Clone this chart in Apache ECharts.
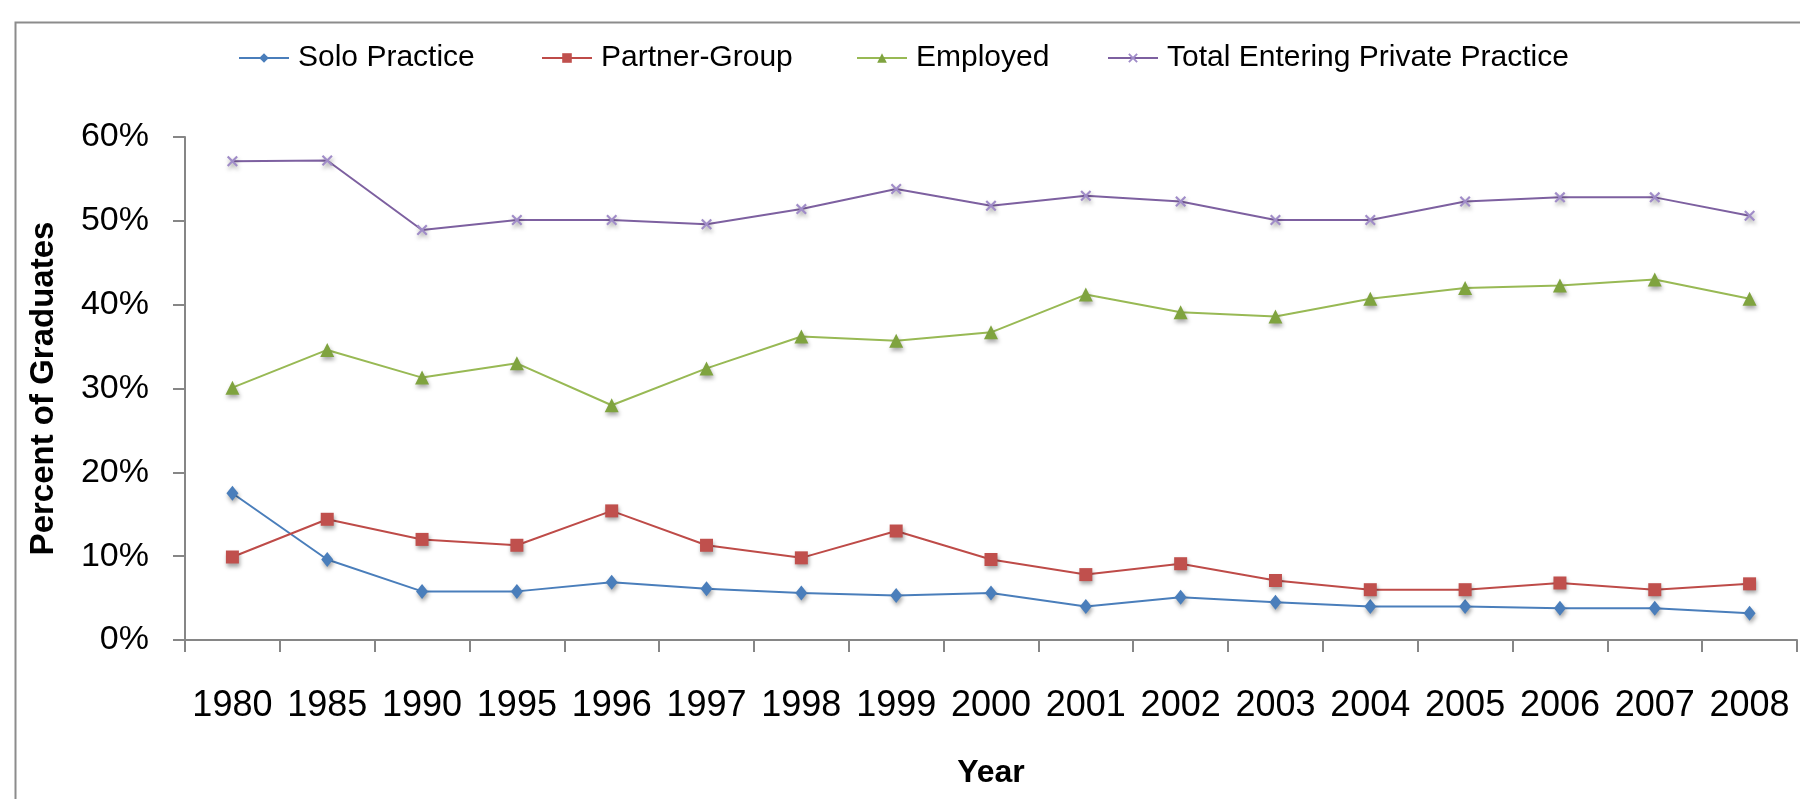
<!DOCTYPE html>
<html>
<head>
<meta charset="utf-8">
<script src="https://cdn.jsdelivr.net/npm/echarts@6/dist/echarts.min.js"></script>
<style>
  html, body { margin: 0; padding: 0; background: #fff; }
  #main { width: 1800px; height: 799px; }
</style>
</head>
<body>
<div id="main"></div>
<script>
var years = ['1980', '1985', '1990', '1995', '1996', '1997', '1998', '1999', '2000',
             '2001', '2002', '2003', '2004', '2005', '2006', '2007', '2008'];
var soloPractice = [17.5, 9.6, 5.8, 5.8, 6.9, 6.1, 5.6, 5.3, 5.6, 4.0, 5.1, 4.5, 4.0, 4.0, 3.8, 3.8, 3.2];
var partnerGroup = [9.9, 14.4, 12.0, 11.3, 15.4, 11.3, 9.8, 13.0, 9.6, 7.8, 9.1, 7.1, 6.0, 6.0, 6.8, 6.0, 6.7];
var employed = [30.1, 34.6, 31.3, 33.0, 28.0, 32.4, 36.2, 35.7, 36.7, 41.2, 39.1, 38.6, 40.7, 42.0, 42.3, 43.0, 40.7];
var totalPrivate = [57.1, 57.2, 48.9, 50.1, 50.1, 49.6, 51.4, 53.8, 51.8, 53.0, 52.3, 50.1, 50.1, 52.3, 52.8, 52.8, 50.6];
var yTicks = [0, 10, 20, 30, 40, 50, 60];

var FONT = '"Liberation Sans", Arial, sans-serif';
var xMark = 'path://M0,1.4L1.4,0L5,3.6L8.6,0L10,1.4L6.4,5L10,8.6L8.6,10L5,6.4L1.4,10L0,8.6L3.6,5Z';

function makeSeries(name, data, color, markColor, symbol, size) {
    return {
        name: name,
        type: 'line',
        data: data,
        symbol: symbol,
        symbolSize: size,
        showAllSymbol: true,
        lineStyle: { color: color, width: 2 },
        itemStyle: {
            color: markColor,
            shadowBlur: 4,
            shadowColor: 'rgba(0,0,0,0.35)',
            shadowOffsetX: 1,
            shadowOffsetY: 3
        },
        emphasis: { disabled: true },
        animation: false
    };
}

function makeLegend(name, left) {
    return {
        data: [name],
        left: left,
        top: 38,
        itemWidth: 50,
        itemHeight: 12,
        itemGap: 0,
        textStyle: { fontFamily: FONT, fontSize: 30, color: '#000', padding: [0, 0, 0, 4] }
    };
}

var myChart = echarts.init(document.getElementById('main'));
var option = {
    backgroundColor: '#fff',
    animation: false,
    graphic: [{
        type: 'rect',
        left: 13,
        top: 20,
        z: -1,
        shape: { width: 1820, height: 820 },
        style: { fill: 'none', stroke: '#8c8c8c', lineWidth: 2 }
    }],
    legend: [
        makeLegend('Solo Practice', 233),
        makeLegend('Partner-Group', 536),
        makeLegend('Employed', 851),
        makeLegend('Total Entering Private Practice', 1102)
    ],
    grid: {
        left: 185,
        right: 3,
        top: 137,
        bottom: 159,
        containLabel: false,
        outerBoundsMode: 'none'
    },
    xAxis: {
        type: 'category',
        data: years,
        boundaryGap: true,
        name: 'Year',
        nameLocation: 'middle',
        nameGap: 117,
        nameTextStyle: { fontFamily: FONT, fontSize: 32, fontWeight: 'bold', color: '#000' },
        axisLine: { show: true, lineStyle: { color: '#868686', width: 2 } },
        axisTick: { show: true, length: 12, lineStyle: { color: '#868686', width: 2 } },
        axisLabel: { fontFamily: FONT, fontSize: 36, color: '#000', margin: 48, interval: 0 },
        splitLine: { show: false }
    },
    yAxis: {
        type: 'value',
        min: yTicks[0],
        max: yTicks[yTicks.length - 1],
        interval: 10,
        name: 'Percent of Graduates',
        nameLocation: 'middle',
        nameGap: 125,
        nameTextStyle: { fontFamily: FONT, fontSize: 33, fontWeight: 'bold', color: '#000' },
        axisLine: { show: true, lineStyle: { color: '#868686', width: 2 } },
        axisTick: { show: true, length: 12, lineStyle: { color: '#868686', width: 2 } },
        axisLabel: { fontFamily: FONT, fontSize: 34, color: '#000', margin: 36, formatter: '{value}%' },
        splitLine: { show: false }
    },
    series: [
        makeSeries('Solo Practice', soloPractice, '#4a7ebb', '#4a7ebb', 'diamond', [12, 15]),
        makeSeries('Partner-Group', partnerGroup, '#be4b48', '#c0504d', 'rect', 13),
        makeSeries('Employed', employed, '#98b954', '#7fa33f', 'triangle', 14),
        makeSeries('Total Entering Private Practice', totalPrivate, '#7d60a0', '#a08cc8', xMark, 11)
    ]
};
myChart.setOption(option);
</script>
</body>
</html>
